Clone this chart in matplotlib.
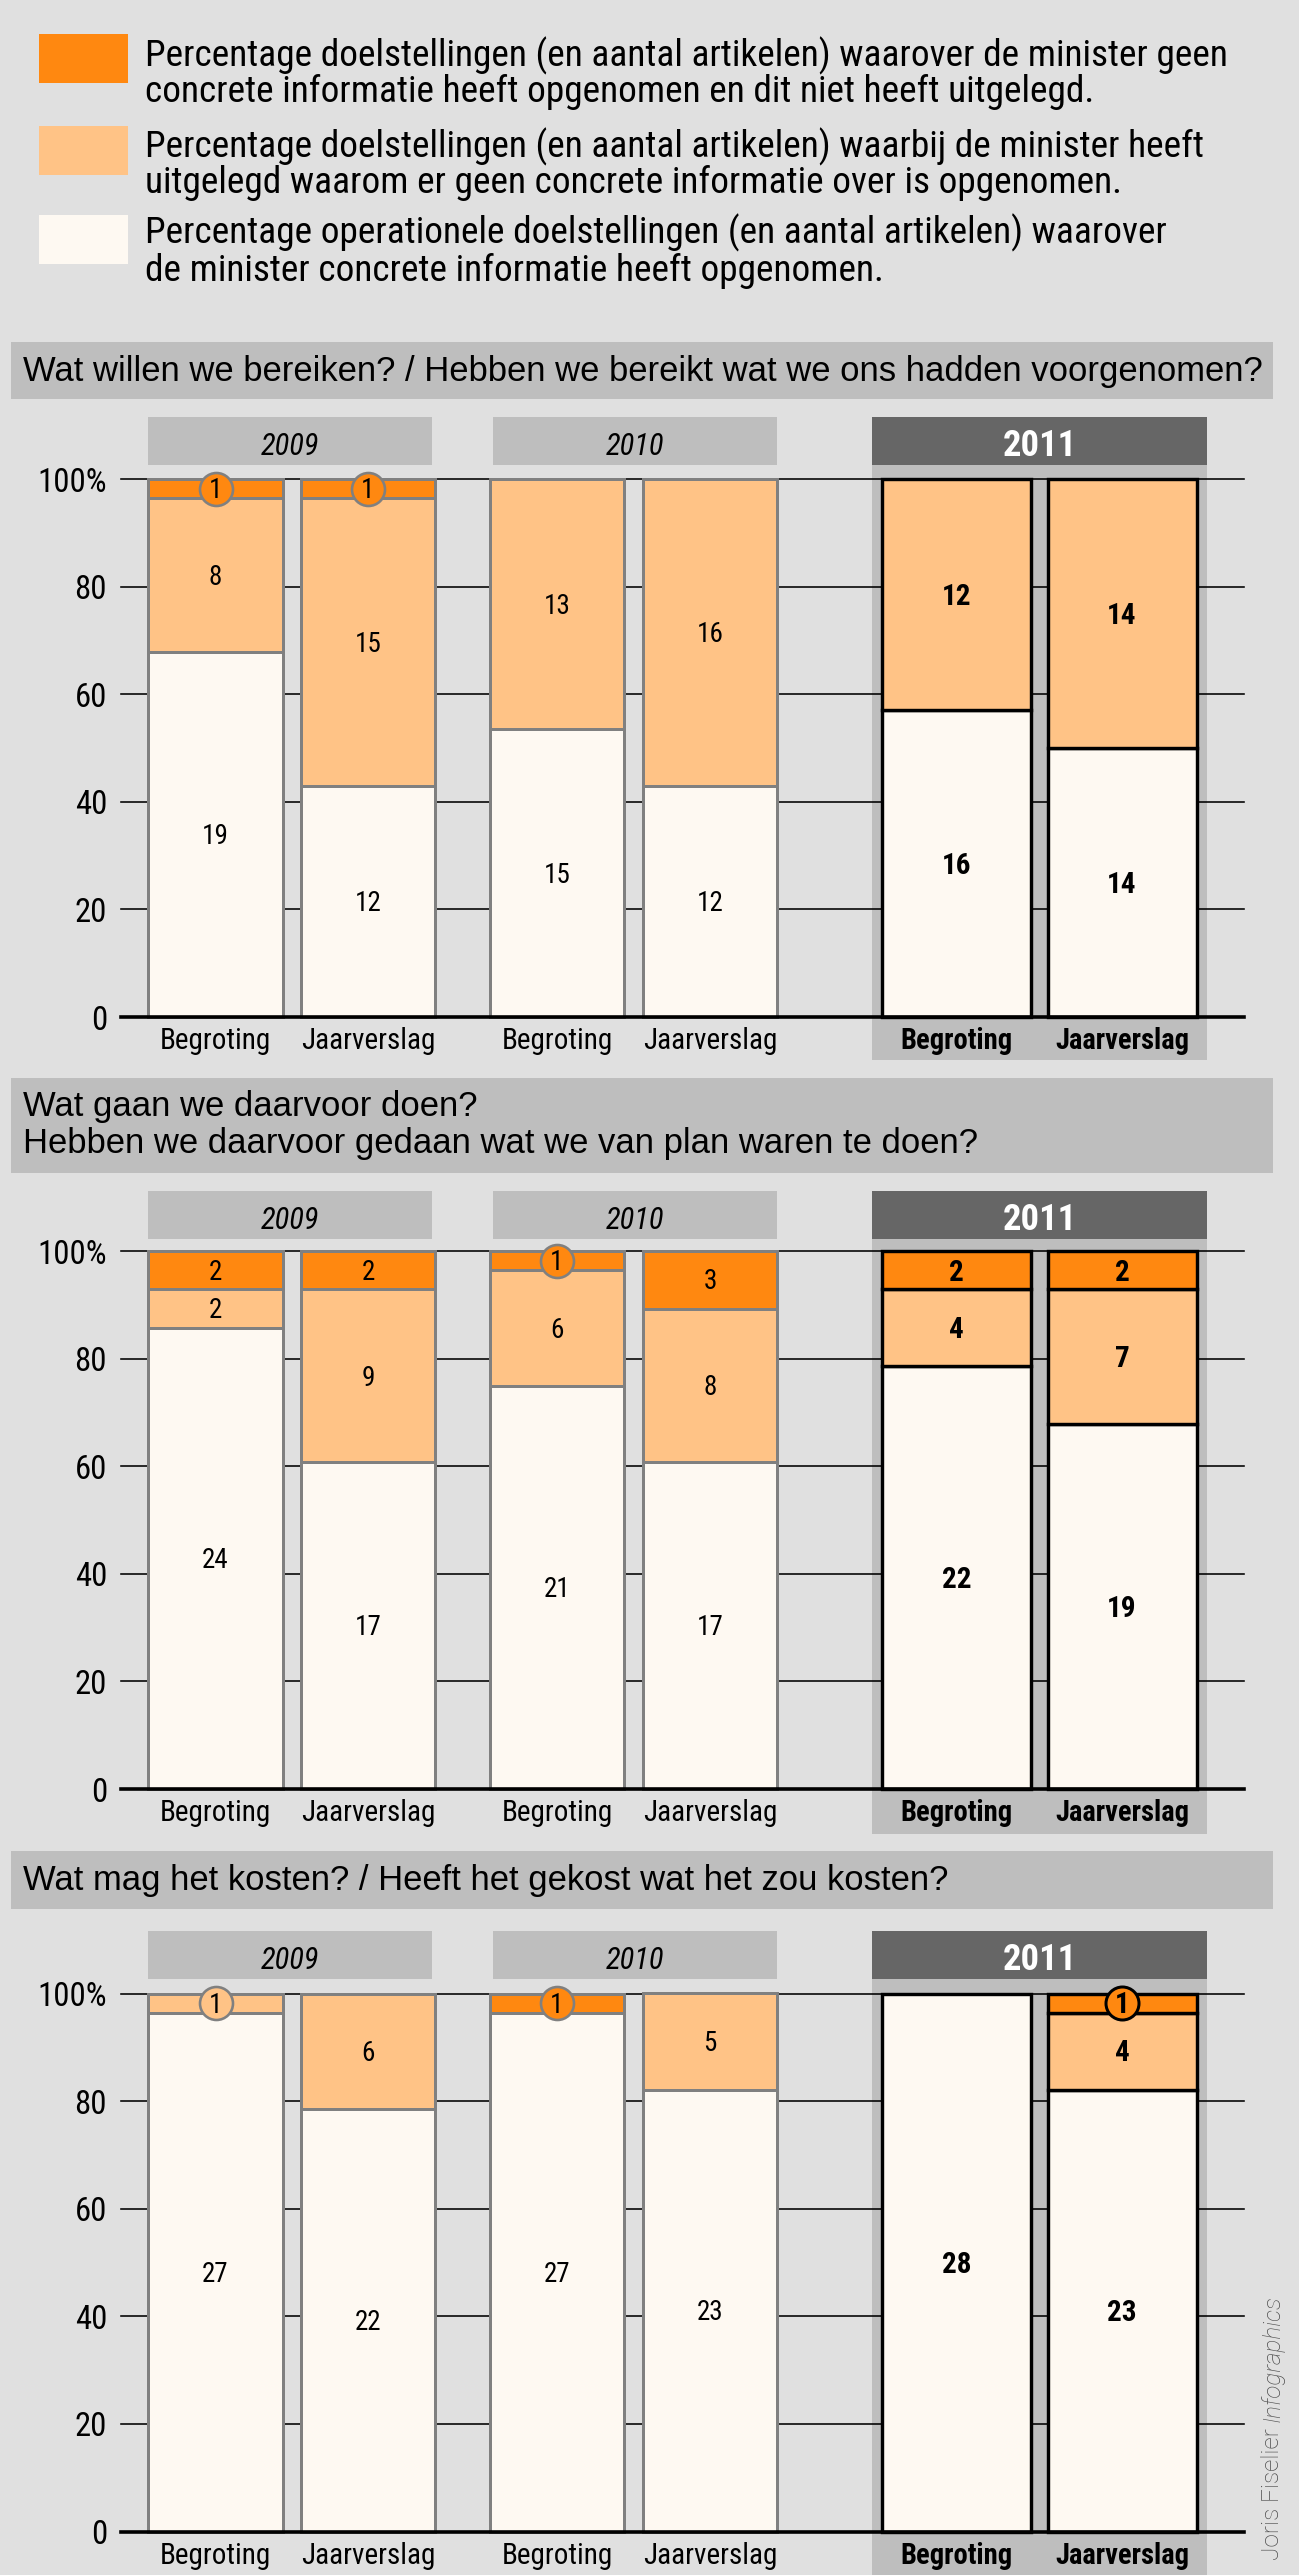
import os
import matplotlib
matplotlib.use('Agg')
import matplotlib.pyplot as plt
from matplotlib import font_manager as fm
from matplotlib.patches import Rectangle

# ---------------- data ----------------
years = ['2009', '2010', '2011']
report_types = ['Begroting', 'Jaarverslag']
legend_labels = [
    'Percentage doelstellingen (en aantal artikelen) waarover de minister geen\n'
    'concrete informatie heeft opgenomen en dit niet heeft uitgelegd.',
    'Percentage doelstellingen (en aantal artikelen) waarbij de minister heeft\n'
    'uitgelegd waarom er geen concrete informatie over is opgenomen.',
    'Percentage operationele doelstellingen (en aantal artikelen) waarover\n'
    'de minister concrete informatie heeft opgenomen.',
]
panel_titles = [
    'Wat willen we bereiken? / Hebben we bereikt wat we ons hadden voorgenomen?',
    'Wat gaan we daarvoor doen?\nHebben we daarvoor gedaan wat we van plan waren te doen?',
    'Wat mag het kosten? / Heeft het gekost wat het zou kosten?',
]
tick_values = [0, 20, 40, 60, 80, 100]
tick_labels = ['0', '20', '40', '60', '80', '100%']
credit_name = 'Joris Fiselier '
credit_firm = 'Infographics'

# counts per bar: 2009 Begroting, 2009 Jaarverslag, 2010 B, 2010 J, 2011 B, 2011 J
p1_geen_uitleg = [1, 1, 0, 0, 0, 0]
p1_uitgelegd = [8, 15, 13, 16, 12, 14]
p1_concreet = [19, 12, 15, 12, 16, 14]

p2_geen_uitleg = [2, 2, 1, 3, 2, 2]
p2_uitgelegd = [2, 9, 6, 8, 4, 7]
p2_concreet = [24, 17, 21, 17, 22, 19]

p3_geen_uitleg = [0, 0, 1, 0, 0, 1]
p3_uitgelegd = [1, 6, 0, 5, 0, 4]
p3_concreet = [27, 22, 27, 23, 28, 23]

panel_data = [
    (p1_geen_uitleg, p1_uitgelegd, p1_concreet),
    (p2_geen_uitleg, p2_uitgelegd, p2_concreet),
    (p3_geen_uitleg, p3_uitgelegd, p3_concreet),
]

# ---------------- style ----------------
BG = '#e0e0e0'
BOX = '#bebebe'
DARK_BOX = '#666666'
C_GEEN = '#ff8810'
C_UITGELEGD = '#ffc386'
C_CONCREET = '#fef9f2'
seg_colors = [C_CONCREET, C_UITGELEGD, C_GEEN]


def _w(v):
    if isinstance(v, str):
        return fm.weight_dict.get(v, 400)
    return int(v)


def _is_condensed(f):
    st = f.stretch
    if isinstance(st, str):
        c = st in ('condensed', 'semi-condensed', 'extra-condensed', 'ultra-condensed')
    else:
        c = st < 500
    base = os.path.basename(f.fname)
    return c or 'Narrow' in f.name or 'Condensed' in f.name or 'Condensed' in base or 'Narrow' in base


def _pick(entries, weight, style):
    best, score = None, 1e9
    for f in entries:
        s = abs(_w(f.weight) - weight)
        if (f.style in ('italic', 'oblique')) != (style == 'italic'):
            s += 1000
        if s < score:
            best, score = f, s
    return best


cond_entries = [f for f in fm.fontManager.ttflist if _is_condensed(f)]
pref = ['Liberation Sans Narrow', 'Roboto Condensed', 'Open Sans Condensed', 'Noto Sans',
        'Noto Sans Condensed', 'DejaVu Sans', 'DejaVu Sans Condensed', 'Open Sans', 'Roboto']
chosen = []
for name in pref:
    chosen = [f for f in cond_entries if f.name == name]
    if chosen:
        break
if not chosen:
    chosen = [f for f in cond_entries if 'Mono' not in f.name and 'Serif' not in f.name]


def NP(weight=400, style='normal', size=20):
    if chosen:
        f = _pick(chosen, weight, style)
        return fm.FontProperties(fname=f.fname, size=size)
    return fm.FontProperties(family='DejaVu Sans', weight=weight, style=style, stretch='condensed', size=size)


def has_font(name):
    try:
        fm.findfont(fm.FontProperties(family=name), fallback_to_default=False)
        return True
    except Exception:
        return False


SANS = 'Liberation Sans' if has_font('Liberation Sans') else 'DejaVu Sans'
LIGHT = 'Roboto' if has_font('Roboto') else 'DejaVu Sans'

W, H = 1299, 2575
DPI = 100
PT = 72.0 / DPI  # points per pixel
CAP = 0.711      # cap height / em of the condensed face


def cap_fs(cap_px):
    return cap_px / CAP * PT


fig = plt.figure(figsize=(W / DPI, H / DPI), dpi=DPI, facecolor=BG)
bg = fig.add_axes([0, 0, 1, 1], zorder=0)
bg.set_xlim(0, W)
bg.set_ylim(H, 0)
bg.axis('off')

renderer = fig.canvas.get_renderer()


def fit_size(txt, target_w):
    bb = txt.get_window_extent(renderer)
    return txt.get_fontsize() * target_w / bb.width


# ---------------- legend ----------------
sw_x0, sw_x1 = 39, 128.4
sw_rows = [(34, 82.7), (126, 174.7), (215, 263.7)]
legend_baselines = [(66.7, 101.7), (157.3, 193.3), (243.3, 280.7)]
leg_colors = [C_GEEN, C_UITGELEGD, C_CONCREET]

probe = bg.text(145, 66.7, legend_labels[0].split('\n')[0], fontproperties=NP(size=20))
leg_fs = fit_size(probe, 1081)
probe.remove()

for (y0s, y1s), col, lab, bases in zip(sw_rows, leg_colors, legend_labels, legend_baselines):
    bg.add_patch(Rectangle((sw_x0, y0s), sw_x1 - sw_x0, y1s - y0s, facecolor=col, edgecolor='none'))
    for line, b in zip(lab.split('\n'), bases):
        bg.text(145, b, line, fontproperties=NP(size=leg_fs), va='baseline', ha='left', color='black')

# ---------------- panels ----------------
bar_centers = [215.5, 368, 557, 710, 956.5, 1122]
bar_widths = [134.5, 134.5, 134.5, 134.5, 149, 149]
year_boxes = [(148, 432), (493, 777), (872, 1207)]
grid_x0, grid_x1 = 120.5, 1244
title_x0, title_x1 = 11, 1273

panels = [
    dict(title_box=(342, 399), title_base=[380.7], year_box=(417, 465),
         y100=479, y0=1017, bg_bottom=1060),
    dict(title_box=(1078, 1173), title_base=[1115.7, 1153.3], year_box=(1191, 1239),
         y100=1251, y0=1789, bg_bottom=1834),
    dict(title_box=(1851, 1908.7), title_base=[1890], year_box=(1931, 1979),
         y100=1993.5, y0=2531.5, bg_bottom=2575),
]

probe = bg.text(23, 380, panel_titles[0], family=SANS, fontsize=20)
title_fs = fit_size(probe, 1236)
probe.remove()

tick_fs = cap_fs(23.3)
cat_fs = cap_fs(20.7)
catb_fs = cap_fs(20.3)
year_fs = cap_fs(21.7)
yearb_fs = cap_fs(26.0)
val_fs = cap_fs(19.3)
valb_fs = cap_fs(20.7)

texts_on_top = []

for pi, (p, data) in enumerate(zip(panels, panel_data)):
    geen, uitgelegd, concreet = data
    # title box
    tb0, tb1 = p['title_box']
    bg.add_patch(Rectangle((title_x0, tb0), title_x1 - title_x0, tb1 - tb0, facecolor=BOX, edgecolor='none'))
    for line, b in zip(panel_titles[pi].split('\n'), p['title_base']):
        bg.text(23, b, line, family=SANS, fontsize=title_fs, va='baseline', ha='left', color='black')

    # year boxes
    yb0, yb1 = p['year_box']
    for yi, (x0, x1) in enumerate(year_boxes):
        if yi < 2:
            bg.add_patch(Rectangle((x0, yb0), x1 - x0, yb1 - yb0, facecolor=BOX, edgecolor='none'))
            bg.text((x0 + x1) / 2, yb1 - 10, years[yi], fontproperties=NP(400, 'italic', size=year_fs),
                    ha='center', va='baseline', color='black')
        else:
            bg.add_patch(Rectangle((x0, yb1), x1 - x0, p['bg_bottom'] - yb1, facecolor=BOX, edgecolor='none'))
            bg.add_patch(Rectangle((x0, yb0), x1 - x0, yb1 - yb0, facecolor=DARK_BOX, edgecolor='none'))
            bg.text((x0 + x1) / 2, yb1 - 9.5, years[yi], fontproperties=NP(700, size=yearb_fs),
                    ha='center', va='baseline', color='white')

    # bar axes in pixel-x / percent-y
    y100, y0 = p['y100'], p['y0']
    ax = fig.add_axes([grid_x0 / W, 1 - y0 / H, (grid_x1 - grid_x0) / W, (y0 - y100) / H], zorder=2)
    ax.set_facecolor('none')
    ax.set_xlim(grid_x0, grid_x1)
    ax.set_ylim(0, 100)
    for s in ax.spines.values():
        s.set_visible(False)
    ax.set_xticks([])
    ax.set_yticks(tick_values, labels=tick_labels)
    ax.tick_params(axis='y', length=0, pad=13.5 * PT)
    for tl in ax.get_yticklabels():
        tl.set_fontproperties(NP(size=tick_fs))
    for tv in tick_values[1:]:
        ax.axhline(tv, color='black', lw=1.6 * PT, zorder=0.5, clip_on=False)
    ax.axhline(0, color='black', lw=3.6 * PT, zorder=4, clip_on=False)

    totals = [g + u + c for g, u, c in zip(geen, uitgelegd, concreet)]
    series = [concreet, uitgelegd, geen]
    bottoms = [0.0] * 6
    for si, vals in enumerate(series):
        pcts = [v / t * 100 for v, t in zip(vals, totals)]
        for bi in range(6):
            if vals[bi] == 0:
                continue
            is2011 = bi >= 4
            ax.bar(bar_centers[bi], pcts[bi], width=bar_widths[bi], bottom=bottoms[bi],
                   color=seg_colors[si], edgecolor='black' if is2011 else '#808080',
                   linewidth=(3.4 if is2011 else 3.0) * PT, zorder=2, clip_on=False)
            mid = bottoms[bi] + pcts[bi] / 2
            if vals[bi] == 1:
                ax.scatter([bar_centers[bi]], [mid], s=(33 * PT) ** 2, color=seg_colors[si],
                           edgecolors='black' if is2011 else '#808080',
                           linewidths=(3.0 if is2011 else 2.6) * PT, zorder=5, clip_on=False)
            mid_px = y0 - mid / 100 * (y0 - y100)
            fs = valb_fs if is2011 else val_fs
            cap_px = CAP * fs / PT
            texts_on_top.append((bar_centers[bi], mid_px + cap_px / 2, str(vals[bi]),
                                 NP(700 if is2011 else 400, size=fs)))
        bottoms = [b + q for b, q in zip(bottoms, pcts)]

    # category labels
    for bi in range(6):
        is2011 = bi >= 4
        bg.text(bar_centers[bi], y0 + 32, report_types[bi % 2],
                fontproperties=NP(700 if is2011 else 400, size=catb_fs if is2011 else cat_fs),
                ha='center', va='baseline', color='black')

# value labels above the bar axes
top = fig.add_axes([0, 0, 1, 1], zorder=6)
top.set_xlim(0, W)
top.set_ylim(H, 0)
top.axis('off')
for x, y, s, fp in texts_on_top:
    top.text(x, y, s, fontproperties=fp, ha='center', va='baseline', color='black')

# ---------------- credit ----------------
c1 = top.text(1273, 2560, credit_name, family=LIGHT, weight='light', fontsize=17.5,
              rotation=90, ha='center', va='bottom', color='#4d4d4d')
bb = c1.get_window_extent(renderer)
c2 = top.text(1273, 2560 - bb.height, credit_firm, family=LIGHT, weight='light', style='italic',
              fontsize=17.5, rotation=90, ha='center', va='bottom', color='#4d4d4d')

fig.savefig('out.png', dpi=DPI, facecolor=BG)
